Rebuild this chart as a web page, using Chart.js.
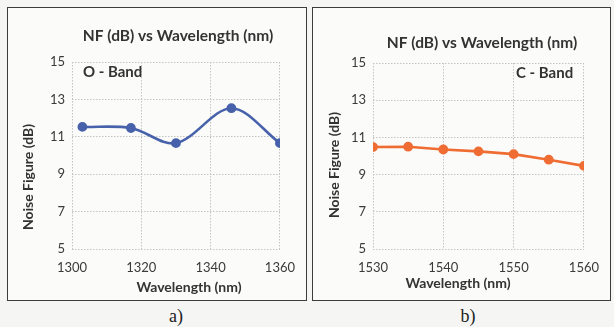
<!DOCTYPE html>
<html><head><meta charset="utf-8">
<script src="https://cdn.jsdelivr.net/npm/chart.js@4.4.1/dist/chart.umd.min.js"></script>
<style>
html,body{margin:0;padding:0;background:#f5f5f3;width:614px;height:327px;overflow:hidden;}
.frame{position:absolute;top:7px;height:292px;border:1.5px solid #3c3c3c;background:#fbfbfa;}
.frame canvas{position:absolute;left:0;top:0;}
.cap{position:absolute;top:306px;font-family:"Liberation Serif","DejaVu Serif",serif;font-size:18px;color:#222;transform:translateX(-50%);}
</style></head>
<body>
<div class="frame" id="fa" style="left:7px;width:298px;"><canvas id="ca" width="298" height="292"></canvas></div>
<div class="frame" id="fb" style="left:312px;width:297px;"><canvas id="cb" width="297" height="292"></canvas></div>
<div class="cap" style="left:176px;">a)</div>
<div class="cap" style="left:468px;">b)</div>
<script>
// O-band data
const oBandWavelength = [1303, 1317, 1330, 1346, 1360];
const oBandNF = [11.53, 11.47, 10.66, 12.53, 10.66];
// C-band data
const cBandWavelength = [1530, 1535, 1540, 1545, 1550, 1555, 1560];
const cBandNF = [10.48, 10.5, 10.35, 10.25, 10.1, 9.8, 9.47];
// axes
const yTicks = [5, 7, 9, 11, 13, 15];
const oXTicks = [1300, 1320, 1340, 1360];
const cXTicks = [1530, 1540, 1550, 1560];
const chartTitle = "NF (dB) vs Wavelength (nm)";
const yTitle = "Noise Figure (dB)";
const xTitle = "Wavelength (nm)";

const FONT = "Lato, 'Open Sans', sans-serif";

const textPlugin = {
  id: 'texts',
  afterDraw(chart, args, o) {
    const ctx = chart.ctx;
    ctx.save();
    ctx.fillStyle = '#333333';
    ctx.textBaseline = 'middle';
    ctx.font = "bold 15.5px " + FONT;
    ctx.textAlign = 'center';
    ctx.fillText(chartTitle, o.titleX, o.titleY);
    ctx.font = "bold 15px " + FONT;
    ctx.textAlign = 'left';
    ctx.fillText(o.band, o.bandX, o.bandY);
    ctx.font = "bold 14px " + FONT;
    ctx.textAlign = 'center';
    ctx.fillText(xTitle, o.xtX, o.xtY);
    ctx.translate(o.ytX, o.ytY);
    ctx.rotate(-Math.PI / 2);
    ctx.fillText(yTitle, 0, 0);
    ctx.restore();
  }
};

function makeChart(id, xs, ys, xt, color, tension, geo, texts) {
  const data = xs.map((x, i) => ({x: x, y: ys[i]}));
  const grid = {color: '#c4c4c4', lineWidth: 1, drawTicks: false};
  const border = {display: false, dash: [1.5, 1.5]};
  return new Chart(document.getElementById(id), {
    type: 'line',
    data: {datasets: [{data: data, borderColor: color, backgroundColor: color,
      borderWidth: 2.6, pointRadius: 3.6, pointHoverRadius: 3.6, tension: tension, fill: false}]},
    plugins: [textPlugin],
    options: {
      responsive: false, animation: false, events: [],
      layout: {padding: {left: 0, right: geo.padR, top: geo.top, bottom: 0}},
      plugins: {legend: {display: false}, tooltip: {enabled: false}, title: {display: false}, texts: texts},
      scales: {
        x: {type: 'linear', min: xt[0], max: xt[xt.length - 1],
          afterBuildTicks: s => { s.ticks = xt.map(v => ({value: v})); },
          afterFit: s => { s.height = geo.xH; },
          grid: grid, border: border,
          ticks: {padding: geo.xPad, color: '#3a3a3a', font: {family: FONT, size: 13}, maxRotation: 0,
            callback: v => String(v)}},
        y: {type: 'linear', min: yTicks[0], max: yTicks[yTicks.length - 1],
          afterBuildTicks: s => { s.ticks = yTicks.map(v => ({value: v})); },
          afterFit: s => { s.width = geo.yW; },
          grid: grid, border: border,
          ticks: {padding: 7, color: '#3a3a3a', font: {family: FONT, size: 13}, callback: v => String(v)}}
      }
    }
  });
}

// left: canvas origin (8.5, 8.5)
makeChart('ca', oBandWavelength, oBandNF, oXTicks, '#4762ab', 0.33,
  {padR: 21, top: 54, xH: 51, yW: 64, xPad: 11},
  {titleX: 170, titleY: 28, band: 'O - Band', bandX: 75, bandY: 64,
   xtX: 181, xtY: 279, ytX: 20, ytY: 169});
// right: canvas origin (313.5, 8.5)
makeChart('cb', cBandWavelength, cBandNF, cXTicks, '#ef6d33', 0,
  {padR: 22, top: 55, xH: 51, yW: 60, xPad: 11},
  {titleX: 169, titleY: 35, band: 'C - Band', bandX: 203, bandY: 65,
   xtX: 145, xtY: 275, ytX: 21, ytY: 157});
</script>
</body></html>
